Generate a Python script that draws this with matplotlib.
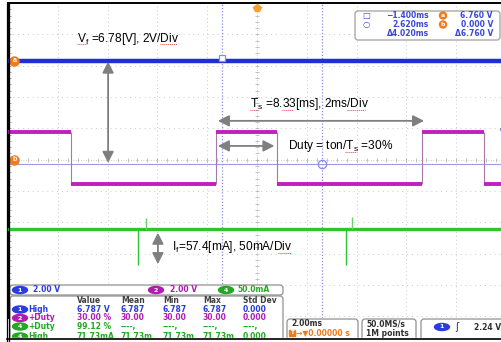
import numpy as np
import matplotlib.pyplot as plt
from matplotlib.patches import FancyBboxPatch, Ellipse, Rectangle

plt.rcParams['font.family'] = ['Liberation Sans', 'DejaVu Sans']
plt.rcParams['mathtext.default'] = 'regular'

# ---- data (time in ms, levels in screen divisions) ----
ch1_level = 3.16                      # Vf = 6.78 V at 2 V/div
ch2_edges = [-7.47, -1.65, 0.80, 6.63, 9.12]   # falling, rising, falling, rising, falling
ch2_high = 0.89
ch2_low = -0.76
ch4_level = -2.22                     # If = 57.4 mA at 50 mA/div
ch4_spike_t = [-4.78, 3.57]
ch4_spike_low = [-3.37, -3.37]
ch4_spike_up_t = [-4.46, 3.81]
ch4_spike_high = [-1.87, -1.84]

cursor_t = [-1.400, 2.620]
cursor_a_level = 3.16
cursor_b_level = -0.13

# measurement table
meas_ch = ['1', '2', '4', '4']
meas_name = ['High', '+Duty', '+Duty', 'High']
meas_value = ['6.787 V', '30.00 %', '99.12 %', '71.73mA']
meas_mean = ['6.787', '30.00', '----,', '71.73m']
meas_min = ['6.787', '30.00', '----,', '71.73m']
meas_max = ['6.787', '30.00', '----,', '71.73m']
meas_std = ['0.000', '0.000', '----,', '0.000']

scale_ch = ['1', '2', '4']
scale_txt = ['2.00 V', '2.00 V', '50.0mA']

BLUE = '#1f2fd0'
PURPLE = '#c020c0'
GREEN = '#2fc42f'
ORANGE = '#f07a1e'
GRAY = '#7f7f7f'
CH_COL = {'1': '#2a3ce0', '2': '#b01cb0', '4': '#22a822'}

W, H = 501, 342
fig = plt.figure(figsize=(W / 100, H / 100), dpi=100)


def frac(x0, y0, x1, y1):
    return [x0 / W, 1 - y1 / H, (x1 - x0) / W, (y1 - y0) / H]


# ---- scope screen ----
ax = fig.add_axes(frac(8, 3, 506, 318))
ax.set_xlim(-10, 10)
ax.set_ylim(-5.05, 4.95)
for s in ['right', 'bottom']:
    ax.spines[s].set_visible(False)
ax.spines['top'].set_linewidth(1.4)
ax.spines['left'].set_linewidth(1.4)
ax.set_xticks([])
ax.set_yticks(np.arange(-5, 5.01, 0.2), minor=True)
ax.set_yticks([])
ax.tick_params(axis='y', which='minor', direction='in', length=2.5, width=0.6,
               color='#999999', labelleft=False)

grid_c = '#c9c9c9'
for xv in np.arange(-8, 10.1, 2):
    if xv != 0:
        ax.axvline(xv, color=grid_c, lw=0.7, ls=(0, (1, 3)), zorder=0)
for yv in np.arange(-5, 5.1, 1):
    if yv != 0:
        ax.axhline(yv, color=grid_c, lw=0.7, ls=(0, (1, 4)), zorder=0)
# center cross with ticks
ax.axhline(0, color='#bdbdbd', lw=0.6, ls=(0, (1, 2)), zorder=0)
ax.axvline(0, color='#bdbdbd', lw=0.6, ls=(0, (1, 2)), zorder=0)
tx = np.arange(-10, 10.01, 0.4)
ax.plot(tx, np.zeros_like(tx), ls='none', marker='|', ms=3.5, mew=0.5, color='#aaaaaa', zorder=0)
ty = np.arange(-5, 5.01, 0.2)
ax.plot(np.zeros_like(ty), ty, ls='none', marker='_', ms=3.5, mew=0.5, color='#aaaaaa', zorder=0)

# cursors
for t in cursor_t:
    ax.axvline(t, color='#8a8ae6', lw=0.9, ls=(0, (1, 1.5)), zorder=1)
ax.axhline(cursor_b_level, color='#9a9aee', lw=0.8, zorder=1)

# ch1
ax.axhline(ch1_level, color=BLUE, lw=3.2, zorder=3)

# ch2 square wave
bounds = [-10] + ch2_edges + [10]
state = True
for i in range(len(bounds) - 1):
    lvl = ch2_high if state else ch2_low
    ax.plot([bounds[i], bounds[i + 1]], [lvl, lvl], color=PURPLE, lw=2.8,
            solid_capstyle='butt', zorder=3)
    state = not state
ax.vlines(ch2_edges, ch2_low, ch2_high, color='#a878a8', lw=0.8, zorder=2)

# ch4
ax.axhline(ch4_level, color=GREEN, lw=2.4, zorder=3)
ax.vlines(ch4_spike_t, ch4_spike_low, ch4_level, color=GREEN, lw=1.0, zorder=3)
for t, h in zip(ch4_spike_up_t, ch4_spike_high):
    ax.vlines(t, ch4_level, h, color='#6cd06c', lw=1.0, zorder=3)

# cursor markers
ax.plot(cursor_t[0], cursor_a_level + 0.1, marker='s', ms=5, mfc='white', mec='#8a8ae6',
        mew=0.9, zorder=4)
ax.plot(cursor_t[1], cursor_b_level, marker='o', ms=6, mfc='none', mec='#8a8ae6',
        mew=0.9, zorder=4)

# left side orange markers and trigger marker
for lvl, lab in [(cursor_a_level, 'a'), (0, 'b')]:
    ax.plot(-9.75, lvl, marker='o', ms=6.5, color=ORANGE, clip_on=False, zorder=5)
    ax.text(-9.75, lvl, lab, color='white', fontsize=5, ha='center', va='center',
            fontweight='bold', zorder=6)
ax.plot(0, 4.85, marker='p', ms=6, color='#f5a030', clip_on=False, zorder=5)
ax.plot(9.87, 0.98, marker='o', ms=3.5, color=BLUE, zorder=5)

# annotations
arrow = dict(arrowstyle='<|-|>,head_length=0.55,head_width=0.28', color=GRAY,
             lw=1.3, shrinkA=0, shrinkB=0, mutation_scale=12)
ax.annotate('', xy=(-5.98, ch1_level - 0.03), xytext=(-5.98, -0.1), arrowprops=arrow, zorder=6)
ax.annotate('', xy=(ch2_edges[1] + 0.08, 1.24), xytext=(ch2_edges[3] + 0.08, 1.24),
            arrowprops=arrow, zorder=6)
ax.annotate('', xy=(ch2_edges[1] + 0.08, 0.44), xytext=(ch2_edges[2] - 0.1, 0.44),
            arrowprops=arrow, zorder=6)
ax.annotate('', xy=(-3.98, -2.33), xytext=(-3.98, -3.33), arrowprops=arrow, zorder=6)

fs = 8.6
ax.text(-7.23, 3.84, 'V$_f$ =6.78[V], 2V/Div', fontsize=fs, va='center', ha='left', zorder=6)
ax.text(-0.28, 1.78, 'T$_s$ =8.33[ms], 2ms/Div', fontsize=fs, va='center', ha='left', zorder=6)
ax.text(1.24, 0.44, 'Duty = ton/T$_s$ =30%', fontsize=fs, va='center', ha='left', zorder=6)
ax.text(-3.41, -2.79, 'I$_f$=57.4[mA], 50mA/Div', fontsize=fs, va='center', ha='left', zorder=6)

# ---- overlay: readouts ----
ui = fig.add_axes([0, 0, 1, 1], facecolor='none')
ui.set_xlim(0, W)
ui.set_ylim(H, 0)
ui.axis('off')

# spell-check squiggles under some words
for x0, x1, yy in [(77, 87, 44), (160, 177, 44), (250, 258, 110), (282, 293, 110),
                   (347, 365, 110), (345, 357, 152), (278, 291, 253)]:
    ui.plot([x0, x1], [yy, yy], color='#e04040', lw=0.7, ls=(0, (1, 1)), zorder=7)

uf = dict(family='DejaVu Sans', fontweight='bold', fontsize=5.5)
CUR = '#3a48d8'


def rbox(x0, y0, x1, y1, ec='#a0a0a0', fc='white', r=3):
    ui.add_patch(FancyBboxPatch((x0, y0), x1 - x0, y1 - y0,
                                boxstyle='round,pad=0,rounding_size=%g' % r,
                                ec=ec, fc=fc, lw=0.9))


def pill(x, y, lab, col, w=15, h=7):
    ui.add_patch(Ellipse((x, y), w, h, color=col))
    ui.text(x, y, lab, color='white', ha='center', va='center', **dict(uf, fontsize=4.5))


# cursor readout
rbox(355, 11, 500, 40)
ui.text(366, 15.5, '\u25a1', color=CUR, ha='center', va='center', fontsize=6, family='DejaVu Sans')
ui.text(366, 24.5, '\u25cb', color=CUR, ha='center', va='center', fontsize=6, family='DejaVu Sans')
for yy, s in zip([15.5, 24.5, 33.5], ['\u22121.400ms', '2.620ms', '\u03944.020ms']):
    ui.text(429, yy, s, color=CUR, ha='right', va='center', **uf)
for yy, s in zip([15.5, 24.5], ['a', 'b']):
    ui.add_patch(Ellipse((443, yy), 7, 7, color=ORANGE))
    ui.text(443, yy, s, color='white', ha='center', va='center', **dict(uf, fontsize=4.5))
for yy, s in zip([15.5, 24.5, 33.5], ['6.760 V', '0.000 V', '\u03946.760 V']):
    ui.text(493, yy, s, color=CUR, ha='right', va='center', **uf)

# channel scale strip
rbox(10, 285, 283, 295, ec='#909090')
for x_p, x_t, c, s in zip([20, 156, 226], [33, 170, 237], scale_ch, scale_txt):
    pill(x_p, 290, c, CH_COL[c])
    ui.text(x_t, 290, s, color=CH_COL[c], ha='left', va='center', **uf)

# measurement table
rbox(10, 296, 283, 350, ec='#909090')
col_x = [77, 121, 163, 203, 243]
for x, s in zip(col_x, ['Value', 'Mean', 'Min', 'Max', 'Std Dev']):
    ui.text(x, 300.5, s, color='#404040', ha='left', va='center', **uf)
row_y = [309.5, 318, 326.5, 336.5]
for i in range(4):
    c = CH_COL[meas_ch[i]]
    pill(20, row_y[i], meas_ch[i], c)
    ui.text(28, row_y[i], meas_name[i], color=c, ha='left', va='center', **uf)
    for x, s in zip(col_x, [meas_value[i], meas_mean[i], meas_min[i], meas_max[i], meas_std[i]]):
        ui.text(x, row_y[i], s, color=c, ha='left', va='center', **uf)

# bottom right status boxes
rbox(287, 319, 358, 350, ec='#909090')
ui.text(291, 324, '2.00ms', color='#303030', ha='left', va='center', **uf)
ui.add_patch(Rectangle((289.5, 330), 6, 6, color=ORANGE))
ui.text(292.5, 333, 'T', color='white', ha='center', va='center', **dict(uf, fontsize=4))
ui.text(296, 333, '\u2192\u25bc0.00000 s', color=ORANGE, ha='left', va='center', **uf)
rbox(362, 319, 416, 350, ec='#909090')
ui.text(366, 324, '50.0MS/s', color='#303030', ha='left', va='center', **uf)
ui.text(366, 333, '1M points', color='#303030', ha='left', va='center', **uf)
rbox(421, 319, 520, 350, ec='#909090')
pill(442, 327, '1', CH_COL['1'])
ui.text(457, 327, '\u0283', color='#303030', ha='center', va='center', fontsize=7, family='DejaVu Sans')
ui.text(501, 327, '2.24 V', color='#303030', ha='right', va='center', **uf)

# frame lines
ui.add_patch(Rectangle((0, 338), W, 10, color='white', zorder=8))
ui.plot([7, W], [338.5, 338.5], color='black', lw=1.2, zorder=9)
ui.plot([7, 7], [3, H], color='black', lw=0.9, zorder=9)
ui.plot([9, 9], [3, H], color='black', lw=0.9, zorder=9)

fig.savefig('out.png', dpi=100)
